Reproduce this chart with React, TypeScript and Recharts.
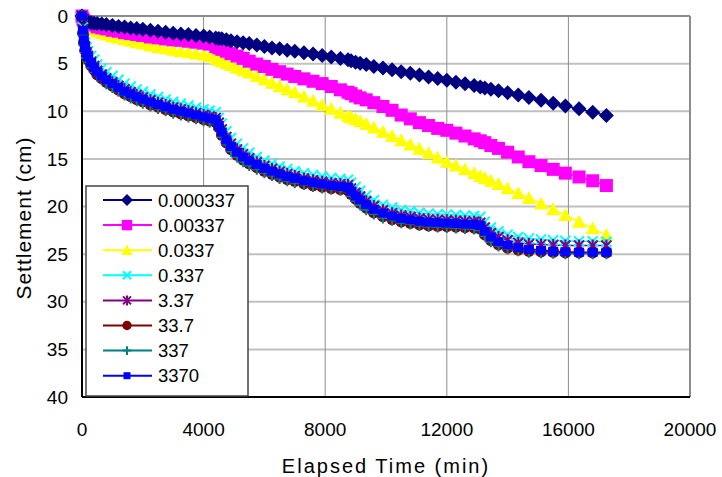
import React from 'react';
import { LineChart, Line, XAxis, YAxis, CartesianGrid, ReferenceLine } from 'recharts';

// elapsed time (min) shared by every curve
const minutes = [
  0, 30, 60, 100, 150, 200, 300, 400, 500, 650,
  800, 1000, 1200, 1400, 1600, 1800, 2000, 2250, 2500, 2750,
  3000, 3250, 3500, 3750, 4000, 4200, 4400, 4500, 4600, 4750,
  4900, 5100, 5300, 5500, 5750, 6000, 6250, 6500, 6750, 7000,
  7300, 7600, 7900, 8200, 8500, 8750, 8850, 9000, 9150, 9350,
  9600, 9900, 10200, 10500, 10800, 11100, 11400, 11700, 12000, 12300,
  12600, 12900, 13100, 13250, 13450, 13700, 14000, 14350, 14700, 15100,
  15500, 15900, 16350, 16800, 17250,
];

// settlement (cm) per permeability case
const s0_000337 = [
  0, 0.2, 0.35, 0.45, 0.55, 0.6, 0.7, 0.75, 0.8, 0.85,
  0.9, 1.0, 1.1, 1.15, 1.25, 1.3, 1.4, 1.5, 1.6, 1.7,
  1.8, 1.9, 1.95, 2.05, 2.1, 2.2, 2.3, 2.35, 2.4, 2.5,
  2.6, 2.7, 2.8, 2.9, 3.05, 3.2, 3.35, 3.45, 3.6, 3.7,
  3.85, 4.0, 4.15, 4.3, 4.45, 4.6, 4.7, 4.85, 4.95, 5.1,
  5.3, 5.45, 5.65, 5.85, 6.0, 6.2, 6.4, 6.55, 6.75, 6.95,
  7.1, 7.3, 7.45, 7.55, 7.7, 7.85, 8.05, 8.3, 8.55, 8.85,
  9.15, 9.45, 9.75, 10.1, 10.45,
];
const s0_00337 = [
  0, 0.3, 0.5, 0.6, 0.7, 0.75, 0.85, 0.95, 1.15, 1.25,
  1.35, 1.5, 1.6, 1.75, 1.85, 1.95, 2.05, 2.2, 2.3, 2.4,
  2.5, 2.55, 2.65, 2.75, 2.85, 2.95, 3.2, 3.35, 3.5, 3.7,
  3.95, 4.2, 4.45, 4.75, 5.05, 5.3, 5.6, 5.85, 6.1, 6.35,
  6.6, 6.85, 7.1, 7.4, 7.75, 8.0, 8.15, 8.4, 8.6, 8.8,
  9.1, 9.5, 9.9, 10.4, 10.8, 11.2, 11.5, 11.8, 12.0, 12.3,
  12.6, 12.9, 13.1, 13.3, 13.6, 13.9, 14.3, 14.8, 15.3, 15.7,
  16.1, 16.5, 16.9, 17.3, 17.8,
];
const s0_0337 = [
  0, 0.5, 0.8, 1.0, 1.15, 1.25, 1.4, 1.5, 1.6, 1.8,
  1.95, 2.15, 2.3, 2.45, 2.6, 2.75, 2.9, 3.1, 3.25, 3.4,
  3.55, 3.7, 3.8, 3.95, 4.05, 4.2, 4.45, 4.6, 4.75, 4.95,
  5.15, 5.45, 5.7, 5.95, 6.3, 6.65, 7.0, 7.35, 7.7, 8.0,
  8.45, 8.9, 9.35, 9.75, 10.15, 10.5, 10.65, 10.85, 11.05, 11.35,
  11.7, 12.15, 12.6, 13.05, 13.5, 13.95, 14.4, 14.85, 15.3, 15.7,
  16.1, 16.5, 16.8, 17.0, 17.3, 17.65, 18.1, 18.6, 19.1, 19.7,
  20.3, 20.9, 21.6, 22.3, 23.0,
];
const s0_337 = [
  0, 1.2, 2.1, 2.8, 3.3, 3.7, 4.2, 4.6, 5.1, 5.5,
  5.9, 6.3, 6.7, 7.1, 7.4, 7.7, 7.95, 8.25, 8.5, 8.75,
  9.0, 9.2, 9.4, 9.6, 9.8, 9.95, 10.1, 10.7, 11.3, 12.1,
  12.8, 13.4, 13.9, 14.35, 14.8, 15.2, 15.5, 15.8, 16.05, 16.3,
  16.5, 16.7, 16.85, 17.0, 17.1, 17.2, 17.5, 17.95, 18.35, 18.85,
  19.35, 19.8, 20.1, 20.35, 20.5, 20.65, 20.75, 20.8, 20.85, 20.9,
  20.95, 21.0, 21.1, 21.6, 22.2, 22.6, 22.95, 23.2, 23.35, 23.45,
  23.55, 23.6, 23.65, 23.65, 23.7,
];
const s3_37 = [
  0, 1.4, 2.4, 3.2, 3.8, 4.2, 4.8, 5.25, 5.75, 6.15,
  6.55, 6.95, 7.35, 7.7, 8.0, 8.3, 8.55, 8.85, 9.1, 9.35,
  9.6, 9.8, 10.0, 10.2, 10.4, 10.55, 10.7, 11.2, 11.9, 12.7,
  13.4, 14.0, 14.5, 14.95, 15.35, 15.75, 16.05, 16.35, 16.6, 16.8,
  17.05, 17.25, 17.4, 17.55, 17.65, 17.75, 18.1, 18.55, 18.95, 19.45,
  19.95, 20.4, 20.7, 20.95, 21.1, 21.25, 21.35, 21.4, 21.45, 21.5,
  21.55, 21.6, 21.7, 22.2, 22.8, 23.2, 23.55, 23.8, 23.95, 24.0,
  24.05, 24.1, 24.1, 24.1, 24.1,
];
const s33_7 = [
  0, 1.8, 2.8, 3.6, 4.2, 4.6, 5.2, 5.65, 6.15, 6.55,
  6.95, 7.35, 7.75, 8.15, 8.45, 8.75, 9.0, 9.3, 9.55, 9.8,
  10.05, 10.25, 10.45, 10.65, 10.85, 11.0, 11.15, 11.7, 12.5, 13.3,
  14.0, 14.6, 15.1, 15.5, 15.9, 16.3, 16.6, 16.9, 17.15, 17.35,
  17.6, 17.8, 17.95, 18.1, 18.2, 18.3, 18.7, 19.2, 19.65, 20.15,
  20.65, 21.05, 21.35, 21.6, 21.75, 21.9, 22.0, 22.05, 22.1, 22.15,
  22.2, 22.25, 22.35, 22.95, 23.55, 24.0, 24.35, 24.55, 24.7, 24.75,
  24.8, 24.85, 24.85, 24.85, 24.85,
];
const s337 = [
  0, 2.0, 3.0, 3.8, 4.4, 4.8, 5.4, 5.85, 6.3, 6.7,
  7.1, 7.5, 7.9, 8.3, 8.6, 8.9, 9.15, 9.45, 9.7, 9.95,
  10.2, 10.4, 10.6, 10.8, 11.0, 11.15, 11.3, 11.9, 12.7, 13.5,
  14.2, 14.8, 15.3, 15.7, 16.1, 16.45, 16.75, 17.05, 17.3, 17.5,
  17.7, 17.9, 18.05, 18.2, 18.3, 18.4, 18.9, 19.4, 19.85, 20.35,
  20.8, 21.2, 21.45, 21.7, 21.85, 22.0, 22.1, 22.15, 22.2, 22.25,
  22.3, 22.35, 22.5, 23.1, 23.7, 24.15, 24.45, 24.65, 24.8, 24.85,
  24.9, 24.95, 24.95, 24.95, 24.95,
];
const s3370 = [
  0, 1.5, 2.5, 3.3, 3.9, 4.3, 4.9, 5.4, 5.9, 6.3,
  6.7, 7.1, 7.5, 7.9, 8.2, 8.5, 8.75, 9.05, 9.3, 9.55,
  9.8, 10.0, 10.2, 10.4, 10.6, 10.75, 10.9, 11.5, 12.2, 13.0,
  13.7, 14.3, 14.8, 15.2, 15.6, 16.0, 16.3, 16.6, 16.85, 17.05,
  17.3, 17.5, 17.65, 17.8, 17.9, 18.0, 18.4, 18.9, 19.3, 19.8,
  20.3, 20.7, 21.0, 21.25, 21.4, 21.55, 21.65, 21.7, 21.75, 21.8,
  21.85, 21.9, 22.0, 22.6, 23.2, 23.7, 24.05, 24.3, 24.5, 24.6,
  24.7, 24.75, 24.8, 24.8, 24.8,
];

const xTicks = [0, 4000, 8000, 12000, 16000, 20000];
const yTicks = [0, 5, 10, 15, 20, 25, 30, 35, 40];

// legend order; draw order below puts the lower group's blue last
const series = [
  { key: 'a', name: '0.000337', values: s0_000337, color: '#000080', shape: 'diamond' },
  { key: 'b', name: '0.00337', values: s0_00337, color: '#FF00FF', shape: 'square' },
  { key: 'c', name: '0.0337', values: s0_0337, color: '#FFFF00', shape: 'triangle' },
  { key: 'd', name: '0.337', values: s0_337, color: '#00FFFF', shape: 'x' },
  { key: 'e', name: '3.37', values: s3_37, color: '#800080', shape: 'star' },
  { key: 'f', name: '33.7', values: s33_7, color: '#800000', shape: 'circle' },
  { key: 'g', name: '337', values: s337, color: '#008080', shape: 'plus' },
  { key: 'h', name: '3370', values: s3370, color: '#0000FF', shape: 'small' },
];
const drawOrder = ['c', 'b', 'a', 'd', 'e', 'f', 'g', 'h'];

const rows = minutes.map((t, i) => {
  const row: any = { t };
  series.forEach((s) => { row[s.key] = s.values[i]; });
  return row;
});

const FONT = '"Liberation Sans", Arial, sans-serif';

const Marker = ({ shape, cx, cy, color, legend = false }: any) => {
  if (cx == null || cy == null) return null;
  const k = legend ? 0.8 : 1;
  switch (shape) {
    case 'diamond': {
      const r = 7.5 * k;
      return <polygon points={`${cx},${cy - r} ${cx + r},${cy} ${cx},${cy + r} ${cx - r},${cy}`} fill={color} />;
    }
    case 'square': {
      const h = 6.5 * k;
      return <rect x={cx - h} y={cy - h} width={2 * h} height={2 * h} fill={color} />;
    }
    case 'triangle': {
      const w = 7 * k;
      return <polygon points={`${cx},${cy - w} ${cx + w},${cy + w * 0.85} ${cx - w},${cy + w * 0.85}`} fill={color} />;
    }
    case 'x': {
      const h = 5 * k;
      return (
        <path d={`M${cx - h},${cy - h}L${cx + h},${cy + h}M${cx - h},${cy + h}L${cx + h},${cy - h}`} stroke={color} strokeWidth={2} />
      );
    }
    case 'star': {
      const h = 5 * k;
      return (
        <path
          d={`M${cx - h},${cy - h}L${cx + h},${cy + h}M${cx - h},${cy + h}L${cx + h},${cy - h}M${cx},${cy - h - 1}L${cx},${cy + h + 1}`}
          stroke={color}
          strokeWidth={2}
        />
      );
    }
    case 'circle':
      return <circle cx={cx} cy={cy} r={5.8 * k} fill={color} />;
    case 'plus': {
      const h = 5.5 * k;
      return <path d={`M${cx - h},${cy}L${cx + h},${cy}M${cx},${cy - h}L${cx},${cy + h}`} stroke={color} strokeWidth={2} />;
    }
    default: {
      const w = legend ? 3.5 : 5;
      const h = legend ? 3.5 : 4.5;
      return <rect x={cx - w} y={cy - h} width={2 * w} height={2 * h} fill={color} />;
    }
  }
};

const LegendBox = () => (
  <svg width={164} height={212} style={{ position: 'absolute', left: 85, top: 185 }}>
    <rect x={1} y={1} width={162} height={210} fill="#fff" stroke="#444" strokeWidth={1.5} />
    {series.map((s, i) => {
      const y = 15 + i * 25.1;
      return (
        <g key={s.key}>
          <line x1={18} x2={67} y1={y} y2={y} stroke={s.color} strokeWidth={2} />
          <Marker shape={s.shape} cx={42} cy={y} color={s.color} legend />
          <text x={73} y={y} dominantBaseline="central" fontFamily={FONT} fontSize={18.5} fill="#000">
            {s.name}
          </text>
        </g>
      );
    })}
  </svg>
);

const App: React.FC = () => {
  const ordered = drawOrder.map((k) => series.find((s) => s.key === k)!);
  return (
    <div style={{ position: 'absolute', left: 0, top: 0, width: 722, height: 477, background: '#fff' }}>
      <LineChart width={722} height={477} data={rows} margin={{ top: 16, right: 32, left: 0, bottom: 0 }}>
        <CartesianGrid vertical={false} stroke="#c0c0c0" strokeWidth={2} />
        <CartesianGrid horizontal={false} stroke="#8c8c8c" strokeWidth={1} />
        <XAxis
          dataKey="t"
          type="number"
          domain={[0, 20000]}
          ticks={xTicks}
          interval={0}
          height={80}
          tickSize={0}
          tickMargin={26}
          axisLine={{ stroke: '#000', strokeWidth: 2 }}
          tick={{ fill: '#000', fontSize: 19, fontFamily: FONT }}
          label={{
            value: 'Elapsed Time (min)',
            position: 'insideBottom',
            offset: 4,
            style: { fill: '#000', fontSize: 20, fontFamily: FONT, letterSpacing: 2 },
          }}
        />
        <YAxis
          type="number"
          reversed
          domain={[0, 40]}
          ticks={yTicks}
          interval={0}
          width={82}
          tickSize={0}
          tickMargin={14}
          axisLine={{ stroke: '#000', strokeWidth: 2 }}
          tick={{ fill: '#000', fontSize: 19, fontFamily: FONT }}
          label={() => (
            <text
              x={23}
              y={218}
              transform="rotate(-90 23 218)"
              textAnchor="middle"
              dominantBaseline="central"
              fontFamily={FONT}
              fontSize={21}
              letterSpacing={1}
              fill="#000"
            >
              Settlement (cm)
            </text>
          )}
        />
        <ReferenceLine y={0} stroke="#8c8c8c" strokeWidth={2} />
        <ReferenceLine x={20000} stroke="#8c8c8c" strokeWidth={2} />
        {ordered.map((s) => (
          <Line
            key={s.key}
            dataKey={s.key}
            name={s.name}
            type="linear"
            stroke={s.color}
            strokeWidth={1.5}
            isAnimationActive={false}
            activeDot={false}
            dot={(p: any) => <Marker key={`${s.key}-${p.index}`} shape={s.shape} cx={p.cx} cy={p.cy} color={s.color} />}
          />
        ))}
      </LineChart>
      <LegendBox />
    </div>
  );
};

export default App;
